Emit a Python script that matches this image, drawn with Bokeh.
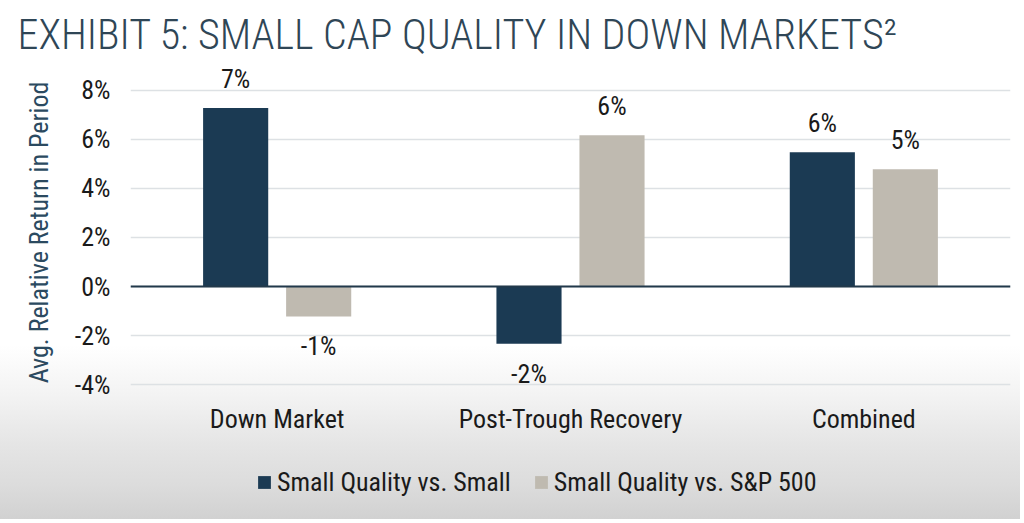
from bokeh.plotting import figure
from bokeh.layouts import column
from bokeh.models import ColumnDataSource, FactorRange, Span, Range1d, FixedTicker, Legend, LegendItem
from bokeh.transform import dodge
from bokeh.core.properties import value
from bokeh.embed import file_html
from bokeh.resources import INLINE

# ---- data ----
categories = ["Down Market", "Post-Trough Recovery", "Combined"]
series_names = ["Small Quality vs. Small", "Small Quality vs. S&P 500"]
quality_vs_small = [7.27, -2.33, 5.47]
quality_vs_sp500 = [-1.22, 6.16, 4.78]
labels_vs_small = ["7%", "-2%", "6%"]
labels_vs_sp500 = ["-1%", "6%", "5%"]
y_ticks = [-4, -2, 0, 2, 4, 6, 8]
y_tick_labels = ["-4%", "-2%", "0%", "2%", "4%", "6%", "8%"]
title_text = "EXHIBIT 5: SMALL CAP QUALITY IN DOWN MARKETS²"
y_title = "Avg. Relative Return in Period"

NAVY = "#1b3a53"
STONE = "#bfbab0"
FONT = "Roboto Condensed, Roboto"
TITLE_FONT = "Roboto Condensed Light, Roboto Condensed, Roboto"
FS = "26px"

def src(vals, labs):
    return ColumnDataSource(dict(
        cat=categories, val=vals, lab=labs,
        base=["bottom" if v >= 0 else "top" for v in vals],
        off=[-14 if v >= 0 else 15 for v in vals],
    ))

s1 = src(quality_vs_small, labels_vs_small)
s2 = src(quality_vs_sp500, labels_vs_sp500)

# ---------------- main chart ----------------
p = figure(frame_width=880, frame_height=334, x_range=FactorRange(*categories),
           y_range=Range1d(-4.6, 9), output_backend="svg", toolbar_location=None,
           min_border_left=130, min_border_right=10, min_border_top=65, min_border_bottom=46)
p.outline_line_color = None
p.background_fill_color = None
p.border_fill_color = None
p.styles = {"background": "linear-gradient(to bottom, #ffffff 0px, #ffffff 345px, "
                          "#f3f3f3 395px, #e9e9e9 430px, #e5e5e5 445px)"}

r1 = p.vbar(x=dodge("cat", -0.1415, range=p.x_range), top="val", width=0.222, source=s1,
            fill_color=NAVY, line_color=None)
r2 = p.vbar(x=dodge("cat", 0.1415, range=p.x_range), top="val", width=0.222, source=s2,
            fill_color=STONE, line_color=None)

for s, d in ((s1, -0.1415), (s2, 0.1415)):
    p.text(x=dodge("cat", d, range=p.x_range), y="val", text="lab", source=s,
           text_align="center", text_baseline="base", y_offset="off",
           text_font=value(FONT), text_font_size=FS, text_color="#1a1a1a")

p.add_layout(Span(location=0, dimension="width", line_color="#22394b", line_width=2))

p.yaxis.ticker = FixedTicker(ticks=y_ticks)
p.yaxis.major_label_overrides = {t: l for t, l in zip(y_ticks, y_tick_labels)}
p.yaxis.axis_line_color = None
p.yaxis.major_tick_line_color = None
p.yaxis.minor_tick_line_color = None
p.yaxis.major_label_standoff = 14
p.yaxis.major_label_text_font = FONT
p.yaxis.major_label_text_font_size = FS
p.yaxis.major_label_text_color = "#1a1a1a"
p.yaxis.axis_label = y_title
p.yaxis.axis_label_text_font = FONT
p.yaxis.axis_label_text_font_size = FS
p.yaxis.axis_label_text_font_style = "normal"
p.yaxis.axis_label_text_color = "#2b4a60"
p.yaxis.axis_label_standoff = 18

p.xaxis.axis_line_color = None
p.xaxis.major_tick_line_color = None
p.xaxis.minor_tick_line_color = None
p.xaxis.major_label_standoff = -2
p.xaxis.major_label_text_font = FONT
p.xaxis.major_label_text_font_size = FS
p.xaxis.major_label_text_color = "#1a1a1a"

p.xgrid.grid_line_color = None
p.ygrid.grid_line_color = "#dde1e4"
p.ygrid.grid_line_width = 1.5

p.title.text = title_text
p.title.text_font = TITLE_FONT
p.title.text_font_size = "42px"
p.title.text_font_style = "normal"
p.title.text_color = "#2f4656"
p.title.align = "left"
p.title.offset = -113
p.title.standoff = 14

# ---------------- legend strip (same series, bars kept out of its view) ----------------
q = figure(width=1020, height=74, x_range=FactorRange(*categories), y_range=Range1d(50, 51),
           x_axis_location=None, y_axis_location=None,
           output_backend="svg", toolbar_location=None,
           min_border_left=0, min_border_right=0, min_border_top=0, min_border_bottom=0)
q.outline_line_color = None
q.background_fill_color = None
q.border_fill_color = None
q.grid.visible = False
q.styles = {"background": "linear-gradient(to bottom, #e5e5e5 0px, #dcdcdc 40px, #d1d1d1 74px)"}

k1 = q.vbar(x=dodge("cat", -0.1415, range=q.x_range), top="val", width=0.222, source=s1,
            fill_color=NAVY, line_color=None)
k2 = q.vbar(x=dodge("cat", 0.1415, range=q.x_range), top="val", width=0.222, source=s2,
            fill_color=STONE, line_color=None)

lg = Legend(items=[LegendItem(label=series_names[0], renderers=[k1]),
                   LegendItem(label=series_names[1], renderers=[k2])],
            location=(126, 22), orientation="horizontal")
lg.background_fill_alpha = 0
lg.border_line_color = None
lg.glyph_width = 16
lg.glyph_height = 16
lg.label_standoff = 5
lg.spacing = 22
lg.padding = 0
lg.margin = 0
lg.label_text_font = FONT
lg.label_text_font_size = FS
lg.label_text_color = "#1a1a1a"
q.add_layout(lg, "center")

layout = column(p, q, spacing=0)
open("out.html", "w").write(file_html(layout, INLINE))
